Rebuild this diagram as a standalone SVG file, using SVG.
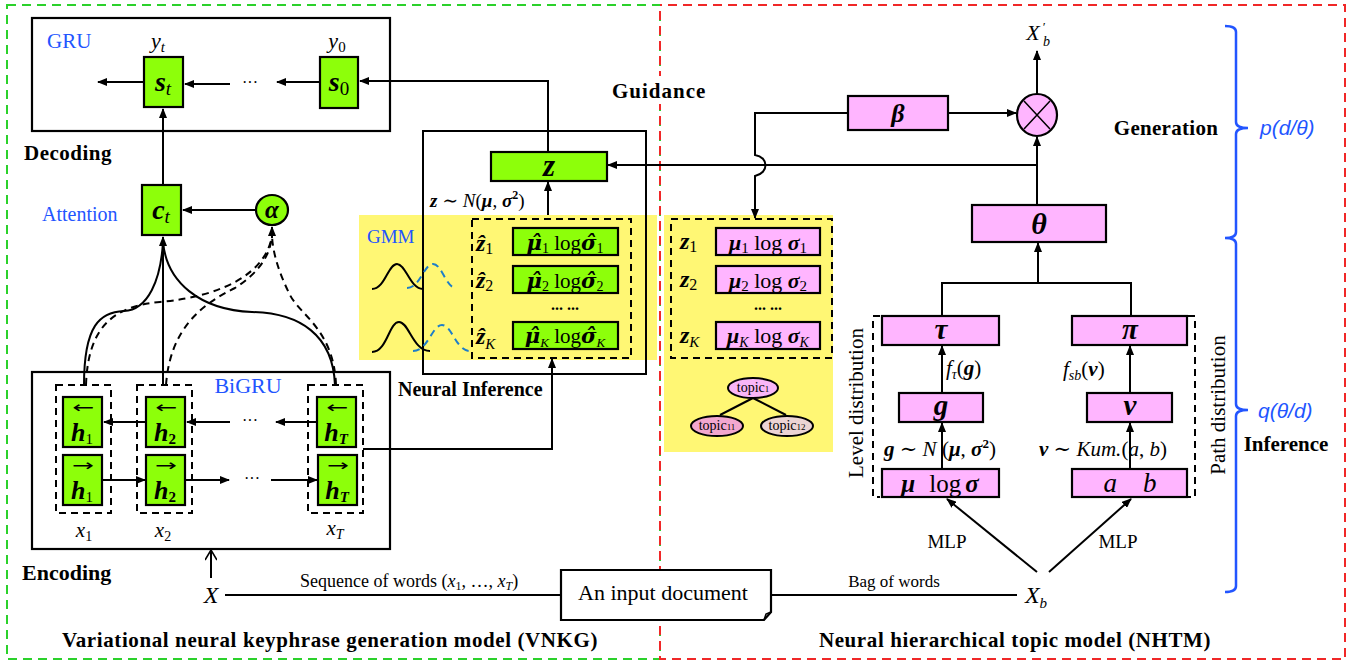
<svg xmlns="http://www.w3.org/2000/svg" width="1351" height="662" viewBox="0 0 1351 662">
<style>
.t{font-family:"Liberation Serif","DejaVu Serif",serif;fill:#000}
.dv{font-family:"DejaVu Serif",serif}
.b{font-weight:bold}
.i{font-style:italic}
.bi{font-weight:bold;font-style:italic}
.blue{fill:#2255ff}
.ln{fill:none;stroke:#000;stroke-width:2}
.dsh{fill:none;stroke:#000;stroke-width:2;stroke-dasharray:7,5}
.grn{fill:#8dff0a;stroke:#000;stroke-width:2.2}
.pnk{fill:#ffb5ff;stroke:#000;stroke-width:2.2}
.yel{fill:#fff774}
.arr{font-family:"DejaVu Sans",sans-serif;font-size:16px}
</style>
<defs>
<marker id="ah" markerWidth="10" markerHeight="8" refX="9" refY="4" orient="auto" markerUnits="userSpaceOnUse"><path d="M0,0 L10,4 L0,8 z" fill="#000"/></marker>
<marker id="oa" markerWidth="12" markerHeight="12" refX="11" refY="6" orient="auto" markerUnits="userSpaceOnUse"><path d="M1,0 L11,6 L1,12" fill="none" stroke="#000" stroke-width="1.6"/></marker>
</defs>
<rect width="1351" height="662" fill="#fff"/>

<!-- panels -->
<g id="panels">
<rect x="7" y="5" width="653" height="654" fill="none" stroke="#2bd12b" stroke-width="2" stroke-dasharray="9,6"/>
<rect x="660" y="5" width="685" height="654" fill="none" stroke="#f02828" stroke-width="2" stroke-dasharray="9,6" stroke-dashoffset="7"/>
<rect class="yel" x="359" y="215" width="298" height="145"/>
<rect class="yel" x="664" y="215" width="169" height="237"/>
<rect x="606" y="76" width="108" height="28" fill="#fff"/>
</g>

<!-- decoder -->
<g id="gru">
<rect x="32" y="18" width="358" height="113" fill="none" stroke="#000" stroke-width="2.2"/>
<text class="t blue" x="47" y="48" font-size="21">GRU</text>
</g>
<g id="s_t">
<rect class="grn" x="144" y="57" width="39" height="50"/>
<text class="t i" x="158" y="48" font-size="22" text-anchor="middle">y<tspan font-size="15" dy="4">t</tspan></text>
<text class="t" x="163" y="91" font-size="28" text-anchor="middle"><tspan class="bi">s</tspan><tspan class="i" font-size="19" dy="4">t</tspan></text>
</g>
<g id="s_0">
<rect class="grn" x="320" y="57" width="38" height="51"/>
<text class="t i" x="337" y="48" font-size="22" text-anchor="middle">y<tspan font-size="15" dy="4" font-style="normal">0</tspan></text>
<text class="t" x="339" y="91" font-size="28" text-anchor="middle"><tspan class="bi">s</tspan><tspan font-size="19" dy="4">0</tspan></text>
</g>
<text class="t" x="250" y="88" font-size="16" text-anchor="middle">···</text>
<text class="t b" x="24" y="160" font-size="21" letter-spacing="0.5">Decoding</text>

<g id="c_t">
<rect class="grn" x="142" y="185" width="39" height="50"/>
<text class="t" x="161" y="219" font-size="28" text-anchor="middle"><tspan class="bi">c</tspan><tspan class="i" font-size="19" dy="4">t</tspan></text>
<text class="t blue" x="42" y="221" font-size="20">Attention</text>
</g>
<g id="alpha">
<ellipse cx="272" cy="210" rx="16" ry="15" fill="#8dff0a" stroke="#000" stroke-width="2.2"/>
<text class="t bi" x="272" y="218" font-size="25" text-anchor="middle">α</text>
</g>

<!-- encoder -->
<g id="bigru">
<rect x="32" y="372" width="358" height="177" fill="none" stroke="#000" stroke-width="2.2"/>
<text class="t blue" x="248" y="393" font-size="22" text-anchor="middle">BiGRU</text>
<rect class="dsh" x="56" y="385" width="55" height="128"/>
<rect class="dsh" x="137" y="385" width="55" height="128"/>
<rect class="dsh" x="308" y="385" width="55" height="128"/>
<text class="t" x="250" y="426" font-size="16" text-anchor="middle">···</text>
<text class="t" x="252" y="484" font-size="16" text-anchor="middle">···</text>
<text class="t b" x="22" y="580" font-size="22">Encoding</text>
</g>
<g id="h1b"><rect class="grn" x="63" y="397" width="39" height="50"/><text class="arr" x="83" y="413" text-anchor="middle" textLength="22" lengthAdjust="spacingAndGlyphs">←</text><text class="t" x="82" y="441" font-size="26" text-anchor="middle"><tspan class="bi">h</tspan><tspan font-size="15" dy="3">1</tspan></text></g>
<g id="h2b"><rect class="grn" x="146" y="397" width="39" height="50"/><text class="arr" x="166" y="413" text-anchor="middle" textLength="22" lengthAdjust="spacingAndGlyphs">←</text><text class="t" x="165" y="441" font-size="26" text-anchor="middle"><tspan class="bi">h</tspan><tspan class="b" font-size="15" dy="3">2</tspan></text></g>
<g id="hTb"><rect class="grn" x="317" y="397" width="39" height="50"/><text class="arr" x="337" y="413" text-anchor="middle" textLength="22" lengthAdjust="spacingAndGlyphs">←</text><text class="t" x="336" y="441" font-size="26" text-anchor="middle"><tspan class="bi">h</tspan><tspan class="bi" font-size="15" dy="3">T</tspan></text></g>
<g id="h1f"><rect class="grn" x="63" y="455" width="39" height="50"/><text class="arr" x="83" y="471" text-anchor="middle" textLength="22" lengthAdjust="spacingAndGlyphs">→</text><text class="t" x="82" y="499" font-size="26" text-anchor="middle"><tspan class="bi">h</tspan><tspan font-size="15" dy="3">1</tspan></text></g>
<g id="h2f"><rect class="grn" x="146" y="455" width="39" height="50"/><text class="arr" x="166" y="471" text-anchor="middle" textLength="22" lengthAdjust="spacingAndGlyphs">→</text><text class="t" x="165" y="499" font-size="26" text-anchor="middle"><tspan class="bi">h</tspan><tspan class="b" font-size="15" dy="3">2</tspan></text></g>
<g id="hTf"><rect class="grn" x="318" y="455" width="39" height="50"/><text class="arr" x="338" y="471" text-anchor="middle" textLength="22" lengthAdjust="spacingAndGlyphs">→</text><text class="t" x="337" y="499" font-size="26" text-anchor="middle"><tspan class="bi">h</tspan><tspan class="bi" font-size="15" dy="3">T</tspan></text></g>
<g id="xs">
<text class="t i" x="84" y="537" font-size="21" text-anchor="middle">x<tspan font-size="14" dy="4" font-style="normal">1</tspan></text>
<text class="t i" x="163" y="537" font-size="21" text-anchor="middle">x<tspan font-size="14" dy="4" font-style="normal">2</tspan></text>
<text class="t i" x="335" y="535" font-size="21" text-anchor="middle">x<tspan font-size="14" dy="4">T</tspan></text>
</g>
<g id="X"><text class="t i" x="211" y="603" font-size="24" text-anchor="middle">X</text></g>
<text class="t" x="300" y="587" font-size="18">Sequence of words (<tspan class="i">x</tspan><tspan font-size="12" dy="3">1</tspan><tspan dy="-3">, …, </tspan><tspan class="i">x</tspan><tspan class="i" font-size="12" dy="3">T</tspan><tspan dy="-3">)</tspan></text>
<g id="doc">
<path d="M561,570 H771 V612 L764,620 H561 Z" fill="#fff" stroke="#000" stroke-width="2.2"/>
<path d="M764,620 L766,614 L771,612" fill="none" stroke="#000" stroke-width="1.5"/>
<text class="t" x="663" y="600" font-size="22" text-anchor="middle">An input document</text>
</g>
<text class="t b" x="330" y="647" font-size="21" letter-spacing="0.6" text-anchor="middle">Variational neural keyphrase generation model (VNKG)</text>
<text class="t b" x="1015" y="647" font-size="21" letter-spacing="0.6" text-anchor="middle">Neural hierarchical topic model (NHTM)</text>

<!-- neural inference -->
<g id="ninf">
<rect x="423" y="131" width="223" height="243" fill="none" stroke="#000" stroke-width="2"/>
<text class="t b" x="398" y="396" font-size="20">Neural Inference</text>
</g>
<g id="z">
<rect class="grn" x="491" y="152" width="116" height="29"/>
<text class="t bi" x="549" y="176" font-size="31" text-anchor="middle">z</text>
<text class="t" x="430" y="207" font-size="19"><tspan class="bi">z</tspan> ∼ <tspan class="i">N</tspan>(<tspan class="bi">μ</tspan>, <tspan class="bi">σ</tspan><tspan font-size="12" dy="-8" class="b">2</tspan><tspan dy="8">)</tspan></text>
</g>
<text class="t b" x="612" y="98" font-size="21" letter-spacing="1">Guidance</text>
<g id="gmm">
<text class="t blue" x="367" y="243" font-size="19">GMM</text>
<path class="ln" d="M372,289 C385,289 388,264 397,264 C406,264 410,289 423,289"/>
<path d="M407,288 C420,288 424,264 433,264 C442,264 446,288 456,288" fill="none" stroke="#1e7ec8" stroke-width="2" stroke-dasharray="7,5"/>
<path class="ln" d="M372,352 C387,352 389,322 399,322 C409,322 413,351 430,351"/>
<path d="M413,351 C428,351 432,325 442,325 C452,325 456,351 470,351" fill="none" stroke="#1e7ec8" stroke-width="2" stroke-dasharray="7,5"/>
</g>
<g id="zhat">
<rect class="dsh" x="472" y="219" width="159" height="139"/>
<text class="t" x="476" y="251" font-size="24"><tspan class="bi">ẑ</tspan><tspan font-size="16" dy="3">1</tspan></text>
<text class="t" x="476" y="288" font-size="24"><tspan class="bi">ẑ</tspan><tspan font-size="16" dy="3">2</tspan></text>
<text class="t" x="476" y="344" font-size="24"><tspan class="bi">ẑ</tspan><tspan class="i" font-size="15" dy="5">K</tspan></text>
<rect class="grn" x="513" y="228" width="105" height="27"/>
<rect class="grn" x="513" y="266" width="105" height="27"/>
<rect class="grn" x="513" y="322" width="105" height="27"/>
<text class="t" x="565" y="250" font-size="21" text-anchor="middle"><tspan class="dv bi">μ̂</tspan><tspan font-size="14" dy="3">1</tspan><tspan dy="-3"> log</tspan><tspan class="dv bi">σ̂</tspan><tspan font-size="14" dy="3">1</tspan></text>
<text class="t" x="565" y="288" font-size="21" text-anchor="middle"><tspan class="dv bi">μ̂</tspan><tspan font-size="14" dy="3">2</tspan><tspan dy="-3"> log</tspan><tspan class="dv bi">σ̂</tspan><tspan font-size="14" dy="3">2</tspan></text>
<text class="t" x="565" y="343" font-size="21" text-anchor="middle"><tspan class="dv bi">μ̂</tspan><tspan class="i" font-size="13" dy="4">K</tspan><tspan dy="-4"> log</tspan><tspan class="dv bi">σ̂</tspan><tspan class="i" font-size="13" dy="4">K</tspan></text>
<text class="t b" x="565" y="310" font-size="16" text-anchor="middle">... ...</text>
</g>
<g id="zright">
<rect class="dsh" x="671" y="219" width="161" height="139"/>
<text class="t" x="680" y="249" font-size="24"><tspan class="bi">z</tspan><tspan font-size="16" dy="3">1</tspan></text>
<text class="t" x="680" y="287" font-size="24"><tspan class="bi">z</tspan><tspan font-size="16" dy="3">2</tspan></text>
<text class="t" x="680" y="343" font-size="24"><tspan class="bi">z</tspan><tspan class="i" font-size="15" dy="4">K</tspan></text>
<rect class="pnk" x="716" y="228" width="104" height="27"/>
<rect class="pnk" x="716" y="266" width="104" height="27"/>
<rect class="pnk" x="716" y="322" width="104" height="27"/>
<text class="t" x="768" y="250" font-size="22" text-anchor="middle"><tspan class="bi">μ</tspan><tspan font-size="15" dy="3">1</tspan><tspan dy="-3"> log </tspan><tspan class="bi">σ</tspan><tspan font-size="15" dy="3">1</tspan></text>
<text class="t" x="768" y="288" font-size="22" text-anchor="middle"><tspan class="bi">μ</tspan><tspan font-size="15" dy="3">2</tspan><tspan dy="-3"> log </tspan><tspan class="bi">σ</tspan><tspan font-size="15" dy="3">2</tspan></text>
<text class="t" x="768" y="343" font-size="22" text-anchor="middle"><tspan class="bi">μ</tspan><tspan class="i" font-size="14" dy="4">K</tspan><tspan dy="-4"> log </tspan><tspan class="bi">σ</tspan><tspan class="i" font-size="14" dy="4">K</tspan></text>
<text class="t b" x="768" y="310" font-size="16" text-anchor="middle">... ...</text>
</g>
<g id="tree">
<line class="ln" x1="753" y1="398" x2="720" y2="415"/>
<line class="ln" x1="753" y1="398" x2="786" y2="415"/>
<ellipse cx="753" cy="388" rx="25" ry="10" fill="#f9b6f7" stroke="#000" stroke-width="2"/>
<ellipse cx="717" cy="426" rx="26" ry="10" fill="#f2a7cf" stroke="#000" stroke-width="2"/>
<ellipse cx="787" cy="426" rx="26" ry="10" fill="#ecd4d4" stroke="#000" stroke-width="2"/>
<text class="t" x="753" y="392" font-size="14" text-anchor="middle">topic<tspan font-size="9">1</tspan></text>
<text class="t" x="717" y="430" font-size="14" text-anchor="middle">topic<tspan font-size="9">11</tspan></text>
<text class="t" x="787" y="430" font-size="14" text-anchor="middle">topic<tspan font-size="9">12</tspan></text>
</g>

<!-- NHTM -->
<g id="xprime">
<text class="t i" x="1033" y="40" font-size="22" text-anchor="middle">X</text>
<text class="t i" x="1042" y="31" font-size="13">′</text>
<text class="t i" x="1043" y="46" font-size="14">b</text>
</g>
<g id="mult">
<ellipse cx="1037" cy="115" rx="20" ry="21" fill="#ffb5ff" stroke="#000" stroke-width="2.2"/>
<path d="M1024,101 L1050,129 M1050,101 L1024,129" stroke="#000" stroke-width="1.5"/>
</g>
<g id="beta"><rect class="pnk" x="848" y="96" width="100" height="34"/><text class="t bi" x="898" y="122" font-size="26" text-anchor="middle">β</text></g>
<g id="theta"><rect class="pnk" x="972" y="205" width="134" height="37"/><text class="t bi" x="1039" y="234" font-size="30" text-anchor="middle">θ</text></g>
<g id="tau"><rect class="pnk" x="882" y="316" width="117" height="29"/><text class="t bi" x="941" y="339" font-size="29" text-anchor="middle">τ</text></g>
<g id="pi"><rect class="pnk" x="1072" y="316" width="115" height="29"/><text class="t bi" x="1130" y="339" font-size="29" text-anchor="middle">π</text></g>
<g id="g"><rect class="pnk" x="899" y="393" width="84" height="29"/><text class="t bi" x="941" y="415" font-size="29" text-anchor="middle">g</text></g>
<g id="v"><rect class="pnk" x="1087" y="393" width="85" height="29"/><text class="t bi" x="1130" y="415" font-size="29" text-anchor="middle">v</text></g>
<g id="musig"><rect class="pnk" x="882" y="469" width="117" height="28"/><text class="t" x="940" y="492" font-size="25" text-anchor="middle"><tspan class="bi">μ</tspan><tspan dx="14">log</tspan><tspan class="bi" dx="4">σ</tspan></text></g>
<g id="ab"><rect class="pnk" x="1072" y="469" width="115" height="28"/><text class="t i" x="1130" y="492" font-size="27" text-anchor="middle">a<tspan dx="26">b</tspan></text></g>
<text class="t" x="946" y="375" font-size="21"><tspan class="i">f</tspan><tspan class="i" font-size="14" dy="4">τ</tspan><tspan dy="-4">(</tspan><tspan class="bi">g</tspan>)</text>
<text class="t" x="1063" y="376" font-size="21"><tspan class="i">f</tspan><tspan class="i" font-size="14" dy="4">sb</tspan><tspan dy="-4">(</tspan><tspan class="bi">v</tspan>)</text>
<text class="t" x="884" y="456" font-size="21"><tspan class="bi">g</tspan> ∼ <tspan class="i">N</tspan> (<tspan class="bi">μ</tspan>, <tspan class="bi">σ</tspan><tspan font-size="13" class="b" dy="-8">2</tspan><tspan dy="8">)</tspan></text>
<text class="t" x="1039" y="456" font-size="21"><tspan class="bi">v</tspan> ∼ <tspan class="i">Kum.</tspan>(<tspan class="i">a</tspan>, <tspan class="i">b</tspan>)</text>
<path class="dsh" d="M880,316 H873 V497 H880"/>
<path class="dsh" d="M1188,316 H1195 V497 H1188"/>
<text class="t" transform="translate(863,403) rotate(-90)" font-size="21" text-anchor="middle">Level distribution</text>
<text class="t" transform="translate(1225,405) rotate(-90)" font-size="21" text-anchor="middle">Path distribution</text>
<text class="t" x="947" y="548" font-size="19" text-anchor="middle">MLP</text>
<text class="t" x="1118" y="548" font-size="19" text-anchor="middle">MLP</text>
<g id="Xb"><text class="t i" x="1036" y="603" font-size="24" text-anchor="middle">X<tspan font-size="15" dy="5">b</tspan></text></g>
<text class="t" x="894" y="587" font-size="17" text-anchor="middle">Bag of words</text>
<text class="t b" x="1166" y="135" font-size="21" text-anchor="middle" letter-spacing="0.3">Generation</text>
<text class="t b" x="1286" y="451" font-size="21" text-anchor="middle">Inference</text>
<path d="M1225,26 Q1236,26 1236,32 V122 Q1236,128 1248,128 Q1236,128 1236,134 V232 Q1236,238 1225,238 Q1236,238 1236,244 V404 Q1236,410 1248,410 Q1236,410 1236,416 V586 Q1236,592 1225,592" fill="none" stroke="#2255ff" stroke-width="2.5"/>
<text x="1260" y="135" font-family="Liberation Sans, sans-serif" font-style="italic" font-size="21" fill="#2255ff">p(d/θ)</text>
<text x="1258" y="418" font-family="Liberation Sans, sans-serif" font-style="italic" font-size="21" fill="#2255ff">q(θ/d)</text>

<!-- connectors -->
<g id="connectors" fill="none" stroke="#000" stroke-width="2">
<path d="M144,82 H98" marker-end="url(#ah)"/>
<path d="M230,84 H185" marker-end="url(#ah)"/>
<path d="M320,82 H277" marker-end="url(#ah)"/>
<path d="M548,152 V81 H360" marker-end="url(#ah)"/>
<path d="M163,185 V109" marker-end="url(#ah)"/>
<path d="M256,210 H183" marker-end="url(#ah)"/>
<path d="M163,385 V237" marker-end="url(#ah)"/>
<path d="M84,385 C84,325 100,312 124,311 C148,310 161,280 163,241"/>
<path d="M335,385 C333,335 300,313 252,312 C200,310 166,282 163,241"/>
<g stroke-dasharray="7,5">
<path d="M86,385 C88,325 115,306 160,302 C225,296 266,272 272,236"/>
<path d="M166,385 C170,330 200,305 235,288 C260,272 270,255 272,236"/>
<path d="M336,385 C334,330 300,315 290,295 C280,275 273,255 272,236"/>
</g>
<path d="M272,238 V227" marker-end="url(#ah)"/>
<path d="M146,422 H104" marker-end="url(#ah)"/>
<path d="M230,422 H187" marker-end="url(#ah)"/>
<path d="M317,422 H276" marker-end="url(#ah)"/>
<path d="M103,480 H145" marker-end="url(#ah)"/>
<path d="M185,480 H229" marker-end="url(#ah)"/>
<path d="M271,480 H317" marker-end="url(#ah)"/>
<path d="M363,449 H552 V359" marker-end="url(#ah)"/>
<path d="M211,578 V550" marker-end="url(#oa)"/>
<path d="M225,595 H561"/>
<path d="M771,595 H1017"/>
<path d="M548,215 V182" marker-end="url(#ah)"/>
<path d="M1037,205 V137" marker-end="url(#ah)"/>
<path d="M1037,94 V51" marker-end="url(#ah)"/>
<path d="M1037,165 H608" marker-end="url(#ah)"/>
<path d="M948,113 H1016" marker-end="url(#ah)"/>
<path d="M848,113 H755 V155 C769,157 769,173 755,176 V218" marker-end="url(#ah)"/>
<path d="M1038,283 V243" marker-end="url(#ah)"/>
<path d="M942,316 V283 H1131 V316"/>
<path d="M942,393 V346" marker-end="url(#ah)"/>
<path d="M1130,393 V346" marker-end="url(#ah)"/>
<path d="M942,469 V423" marker-end="url(#ah)"/>
<path d="M1130,469 V423" marker-end="url(#ah)"/>
<path d="M1037,572 L947,499" marker-end="url(#ah)"/>
<path d="M1049,572 L1131,499" marker-end="url(#ah)"/>
</g>
</svg>
